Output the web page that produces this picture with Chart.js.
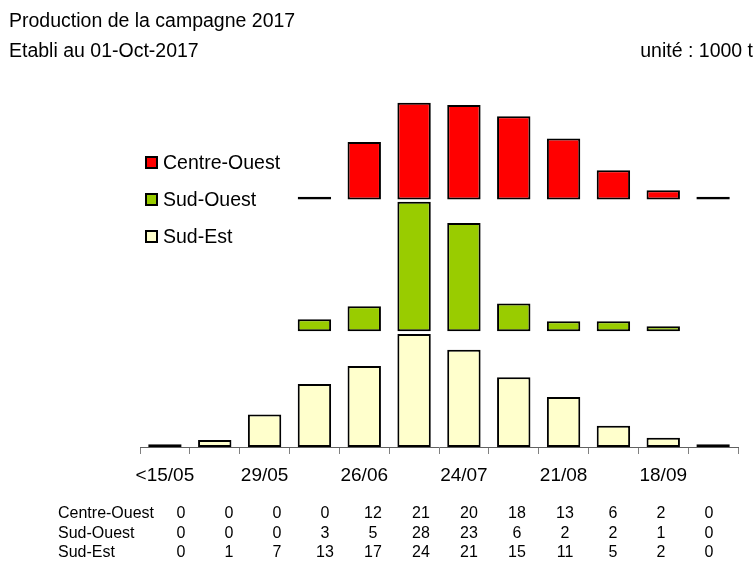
<!DOCTYPE html>
<html>
<head>
<meta charset="utf-8">
<script src="https://cdn.jsdelivr.net/npm/chart.js@4.4.1/dist/chart.umd.min.js"></script>
<style>
  html, body { margin: 0; padding: 0; background: #fff; }
  #wrap { width: 754px; height: 568px; position: relative; }
</style>
</head>
<body>
<div id="wrap"><canvas id="prodChart" width="754" height="568"></canvas></div>
<script>
// périodes (quinzaines) et libellés de l'axe
const categories = ['<15/05', '15/05', '29/05', '12/06', '26/06', '10/07', '24/07', '07/08', '21/08', '04/09', '18/09', '02/10'];
const regions = ['Centre-Ouest', 'Sud-Ouest', 'Sud-Est'];

// valeurs du tableau (arrondies, en 1000 t)
const tableCO = [0, 0, 0, 0, 12, 21, 20, 18, 13, 6, 2, 0];
const tableSO = [0, 0, 0, 3, 5, 28, 23, 6, 2, 2, 1, 0];
const tableSE = [0, 1, 7, 13, 17, 24, 21, 15, 11, 5, 2, 0];

// hauteurs des barres (non arrondies)
const barCO = [0, 0, 0, 0.6, 12.4, 20.9, 20.4, 18, 13.2, 6.3, 2, 0.6];
const barSO = [0, 0, 0, 2.6, 5.4, 28, 23.4, 6, 2.2, 2.2, 1.1, 0];
const barSE = [0.6, 1.5, 7, 13.6, 17.5, 24.4, 21, 15.1, 10.8, 4.6, 2, 0.6];

// base de chaque bassin sur l'axe vertical (empilement décalé)
const baseSE = 0, baseSO = 25, baseCO = 53.5;

const colors = { 'Centre-Ouest': '#ff0000', 'Sud-Ouest': '#99cc00', 'Sud-Est': '#ffffcc' };
const FONT = '"Liberation Sans", Arial, sans-serif';

function floating(values, base) {
    return values.map(v => [base, base + v]);
}

// textes d'en-tête
const headerPlugin = {
    id: 'header',
    afterDraw(chart) {
        const c = chart.ctx;
        c.save();
        c.fillStyle = '#000';
        c.font = '19.5px ' + FONT;
        c.textBaseline = 'middle';
        c.textAlign = 'left';
        c.fillText('Production de la campagne 2017', 9, 22);
        c.fillText('Etabli au 01-Oct-2017', 9, 52);
        c.textAlign = 'right';
        c.fillText('unité : 1000 t', 753, 52);
        c.restore();
    }
};

// légende à gauche des barres
const legendPlugin = {
    id: 'sideLegend',
    afterDraw(chart) {
        const c = chart.ctx;
        c.save();
        c.font = '19.5px ' + FONT;
        c.textBaseline = 'middle';
        chart.data.datasets.forEach((ds, i) => {
            const y = 163 + i * 37;
            c.fillStyle = ds.backgroundColor;
            c.fillRect(146, y - 6, 11, 11);
            c.lineWidth = 2;
            c.strokeStyle = '#000';
            c.strokeRect(146, y - 6, 11, 11);
            c.fillStyle = '#000';
            c.fillText(ds.label, 163, y + 1);
        });
        c.restore();
    }
};

// tableau de données sous l'axe
const tablePlugin = {
    id: 'dataTable',
    afterDraw(chart) {
        const c = chart.ctx;
        const rows = [tableCO, tableSO, tableSE];
        c.save();
        c.font = '16px ' + FONT;
        c.textBaseline = 'middle';
        c.fillStyle = '#000';
        rows.forEach((row, r) => {
            const y = 514 + r * 19.5;
            c.textAlign = 'left';
            c.fillText(regions[r], 58, y);
            c.textAlign = 'center';
            row.forEach((v, i) => c.fillText(String(v), 181 + i * 48, y));
        });
        c.restore();
    }
};

const ctx = document.getElementById('prodChart').getContext('2d');
new Chart(ctx, {
    type: 'bar',
    data: {
        labels: categories,
        datasets: [
            { label: 'Centre-Ouest', data: floating(barCO, baseCO), backgroundColor: colors['Centre-Ouest'] },
            { label: 'Sud-Ouest', data: floating(barSO, baseSO), backgroundColor: colors['Sud-Ouest'] },
            { label: 'Sud-Est', data: floating(barSE, baseSE), backgroundColor: colors['Sud-Est'] }
        ]
    },
    options: {
        responsive: false,
        animation: false,
        grouped: false,
        borderColor: '#000',
        borderWidth: 2,
        borderSkipped: false,
        categoryPercentage: 1,
        barPercentage: 0.67,
        layout: { padding: { left: 140, right: 16, top: 100, bottom: 81 } },
        plugins: { legend: { display: false }, tooltip: { enabled: false } },
        scales: {
            x: {
                grid: { drawOnChartArea: false, drawTicks: true, tickLength: 7, color: '#808080' },
                border: { color: '#606060', width: 1 },
                ticks: {
                    color: '#000',
                    font: { family: FONT, size: 19 },
                    padding: 10,
                    autoSkip: false,
                    maxRotation: 0,
                    callback: (v, i) => (i % 2 === 0 ? categories[i] : '')
                },
                afterFit: s => { s.height = 40; }
            },
            y: { display: false, min: 0, max: 75 }
        }
    },
    plugins: [headerPlugin, legendPlugin, tablePlugin]
});
</script>
</body>
</html>
